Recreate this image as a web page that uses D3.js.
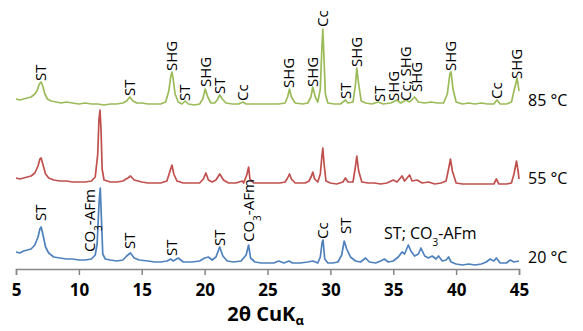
<!DOCTYPE html>
<html>
<head>
<meta charset="utf-8">
<script src="https://cdn.jsdelivr.net/npm/d3@7"></script>
<style>
  body { margin: 0; background: #fff; }
  text { font-family: "Open Sans", "Liberation Sans", sans-serif; }
</style>
</head>
<body>
<div id="chart"></div>
<script>
// diffractograms, [2theta, intensity (stacked, arbitrary units)]
var pattern85 = [
  [5.0,170],[5.3,169],[5.6,170],[5.9,171],[6.2,172],[6.5,175],[6.7,179],[6.85,185],[7.0,187],[7.15,182],
  [7.3,175],[7.5,170],[7.8,168],[8.2,167],[8.6,166],[9.0,167],[9.5,166],[10.0,165],[10.5,166],[11.0,165],
  [11.5,165],[12.0,164],[12.5,165],[13.0,165],[13.5,166],[13.8,168],[14.05,172],[14.3,168],[14.6,166],[15.0,166],
  [15.5,165],[16.0,165],[16.5,165],[16.9,167],[17.15,178],[17.3,192],[17.4,197],[17.5,190],[17.65,175],[17.9,167],
  [18.2,165],[18.45,168],[18.7,165],[19.2,164],[19.6,165],[19.85,170],[20.05,180],[20.25,172],[20.5,166],[20.8,166],
  [21.0,169],[21.2,174],[21.4,170],[21.7,166],[22.2,165],[22.7,165],[23.05,167],[23.3,165],[24.0,165],[24.7,165],
  [25.3,165],[25.9,165],[26.4,166],[26.6,172],[26.75,180],[26.9,172],[27.2,166],[27.8,165],[28.2,166],[28.45,172],
  [28.6,182],[28.8,172],[29.0,167],[29.2,180],[29.32,220],[29.4,240],[29.48,215],[29.6,175],[29.8,166],[30.3,165],
  [30.8,165],[31.0,167],[31.2,169],[31.4,166],[31.8,167],[32.0,185],[32.1,201],[32.25,185],[32.45,168],[32.8,166],
  [33.3,165],[33.8,167],[34.2,165],[34.8,166],[35.3,169],[35.6,166],[36.0,169],[36.3,167],[36.7,172],[37.0,167],
  [37.5,166],[38.0,167],[38.5,166],[39.0,166],[39.3,175],[39.5,195],[39.6,197],[39.75,180],[40.0,167],[40.5,165],
  [41.0,166],[41.5,165],[42.0,166],[42.5,165],[43.0,165],[43.25,169],[43.5,165],[44.0,165],[44.4,167],[44.6,178],
  [44.85,191],[45.0,178]
];
var pattern55 = [
  [5.0,91],[5.3,90],[5.6,91],[5.9,92],[6.2,93],[6.5,96],[6.75,103],[6.9,110],[7.0,111],[7.15,104],
  [7.35,95],[7.6,91],[8.0,89],[8.5,88],[9.0,88],[9.5,87],[10.0,87],[10.5,87],[11.0,88],[11.3,92],
  [11.5,115],[11.6,150],[11.68,159],[11.76,140],[11.85,100],[12.0,89],[12.5,87],[13.0,87],[13.5,88],[13.9,91],
  [14.1,93],[14.4,89],[15.0,87],[15.5,86],[16.0,86],[16.5,86],[17.0,88],[17.2,96],[17.4,104],[17.55,95],
  [17.8,88],[18.3,86],[19.0,86],[19.6,86],[19.9,90],[20.1,96],[20.3,89],[20.6,87],[20.9,89],[21.2,95],
  [21.5,89],[21.9,86],[22.5,86],[23.0,88],[23.1,86],[23.35,94],[23.5,102],[23.6,90],[23.9,86],[24.5,86],
  [25.0,86],[25.5,86],[26.0,86],[26.4,87],[26.6,91],[26.75,95],[26.9,90],[27.2,86],[28.0,86],[28.3,88],
  [28.5,93],[28.6,97],[28.75,90],[29.0,87],[29.2,95],[29.32,112],[29.4,121],[29.5,105],[29.65,88],[30.0,86],
  [30.5,85],[31.0,87],[31.2,91],[31.4,87],[31.8,87],[32.0,103],[32.1,113],[32.25,98],[32.5,87],[33.0,86],
  [33.5,86],[34.0,85],[34.5,86],[35.0,89],[35.3,87],[35.7,93],[35.9,88],[36.3,94],[36.5,88],[36.9,89],
  [37.3,86],[37.8,87],[38.3,85],[38.8,86],[39.2,88],[39.4,100],[39.55,110],[39.7,98],[40.0,86],[40.5,85],
  [41.0,85],[41.5,85],[42.0,85],[42.5,85],[43.0,85],[43.2,90],[43.4,85],[44.0,85],[44.4,86],[44.6,95],
  [44.8,108],[44.95,96],[45.0,90]
];
var pattern20 = [
  [5.0,17],[5.3,16],[5.6,18],[5.9,19],[6.2,20],[6.5,24],[6.75,32],[6.9,40],[7.0,42],[7.15,34],
  [7.35,22],[7.6,16],[8.0,12],[8.5,11],[9.0,10],[9.5,10],[10.0,9],[10.5,9],[11.0,10],[11.3,14],
  [11.45,25],[11.6,65],[11.7,81],[11.78,55],[11.9,15],[12.1,10],[12.5,9],[13.0,8],[13.5,9],[13.8,13],
  [14.1,16],[14.4,11],[14.8,9],[15.5,8],[16.0,7],[16.5,7],[17.0,8],[17.3,10],[17.5,8],[17.9,11],
  [18.3,7],[19.0,7],[19.6,8],[20.0,11],[20.3,12],[20.6,9],[20.9,12],[21.2,22],[21.45,13],[21.8,8],
  [22.3,7],[22.9,8],[23.3,14],[23.5,24],[23.65,11],[24.0,7],[24.5,6],[25.0,6],[25.5,6],[25.9,8],
  [26.3,6],[26.7,8],[27.0,6],[27.6,6],[28.2,7],[28.6,8],[29.0,6],[29.2,12],[29.35,27],[29.42,29],
  [29.55,10],[29.8,6],[30.2,6],[30.6,7],[30.9,14],[31.1,28],[31.3,20],[31.6,12],[32.0,8],[32.4,7],
  [32.8,11],[33.1,7],[33.6,6],[34.0,8],[34.3,10],[34.6,7],[35.0,8],[35.4,12],[35.7,17],[35.9,15],
  [36.2,24],[36.4,18],[36.7,13],[37.0,15],[37.2,21],[37.5,13],[37.8,11],[38.1,13],[38.4,10],[38.6,13],
  [38.9,8],[39.2,9],[39.4,12],[39.6,7],[40.0,5],[40.5,4],[41.0,5],[41.5,4],[42.0,5],[42.4,7],
  [42.7,10],[43.0,8],[43.2,11],[43.5,6],[44.0,6],[44.3,9],[44.6,7],[45.0,8]
];

var seriesNames = ["85 °C", "55 °C", "20 °C"];
var seriesLevels = [169, 91, 12];
var seriesColors = ["#9bbb59", "#c0504d", "#4f81bd"];

// phase labels: [text, 2theta, intensity at label foot]
var labels85 = [
  ["ST",7.0,187],["ST",14.05,172],["SHG",17.4,197],["ST",18.45,167],["SHG",20.1,181],["ST",21.2,174],
  ["Cc",23.05,167],["SHG",26.7,180],["SHG",28.6,181],["Cc",29.4,241],["ST",31.2,169],["SHG",32.1,201],
  ["ST",33.9,166],["SHG",35.0,167],["Cc; SHG",36.0,167],["SHG",36.9,176],["SHG",39.6,197],["Cc",43.25,169],
  ["SHG",44.85,189]
];
var labels20 = [
  ["ST",7.0,47],["CO3-AFm",10.85,16],["ST",14.05,19],["ST",17.35,12],["ST",21.2,22],["CO3-AFm",23.5,26],
  ["Cc",29.4,29],["ST",31.2,34]
];
var labelFlat = ["ST; CO3-AFm", 37.95, 36];

var xTicks = [5, 10, 15, 20, 25, 30, 35, 40, 45];

var margin = {top: 9, right: 64, bottom: 62, left: 16},
    width = 583 - margin.left - margin.right,
    height = 331 - margin.top - margin.bottom;

var x = d3.scaleLinear().domain([5, 45]).range([0, width]);
var y = d3.scaleLinear().domain([0, 260]).range([height, 0]);

var svg = d3.select("#chart").append("svg")
    .attr("width", 583)
    .attr("height", 331)
  .append("g")
    .attr("transform", "translate(" + margin.left + "," + margin.top + ")");

// x axis
var xAxis = svg.append("g")
    .attr("transform", "translate(0," + height + ")")
    .call(d3.axisBottom(x).tickValues(xTicks).tickSize(6).tickPadding(9));
xAxis.select(".domain").attr("stroke", "#868686").attr("stroke-width", 1.5);
xAxis.selectAll(".tick line").attr("stroke", "#868686").attr("stroke-width", 1.5);
xAxis.selectAll(".tick text")
    .style("font-size", "17px")
    .style("font-weight", "bold")
    .attr("fill", "#000");

// axis title
var title = svg.append("text")
    .attr("x", width / 2 - 2)
    .attr("y", height + 52)
    .attr("text-anchor", "middle")
    .style("font-size", "20px")
    .style("font-weight", "bold");
title.append("tspan").text("2θ CuK");
title.append("tspan").attr("dy", 4).style("font-size", "13px").text("α");

// patterns
var line = d3.line()
    .x(function(d) { return x(d[0]); })
    .y(function(d) { return y(d[1]); });

[pattern85, pattern55, pattern20].forEach(function(p, i) {
    svg.append("path")
        .datum(p)
        .attr("fill", "none")
        .attr("stroke", seriesColors[i])
        .attr("stroke-width", 1.7)
        .attr("stroke-linejoin", "round")
        .attr("d", line);

    svg.append("text")
        .attr("x", x(45) + 9)
        .attr("y", y(seriesLevels[i]))
        .attr("dy", "0.35em")
        .style("font-size", "16px")
        .text(seriesNames[i]);
});

// writes "CO3" with a subscript 3
function addLabelText(sel, txt) {
    var parts = txt.split("CO3");
    if (parts.length === 1) { sel.text(txt); return; }
    sel.append("tspan").text(parts[0] + "CO");
    sel.append("tspan").attr("baseline-shift", "sub").style("font-size", "10px").text("3");
    sel.append("tspan").text(parts[1]);
}

labels85.concat(labels20).forEach(function(l) {
    var t = svg.append("text")
        .attr("transform", "translate(" + x(l[1]) + "," + (y(l[2]) - 1) + ") rotate(-90)")
        .attr("dy", "0.35em")
        .style("font-size", "15px");
    addLabelText(t, l[0]);
});

var flat = svg.append("text")
    .attr("x", x(labelFlat[1]))
    .attr("y", y(labelFlat[2]))
    .attr("text-anchor", "middle")
    .attr("dy", "0.35em")
    .style("font-size", "16px");
addLabelText(flat, labelFlat[0]);
</script>
</body>
</html>
